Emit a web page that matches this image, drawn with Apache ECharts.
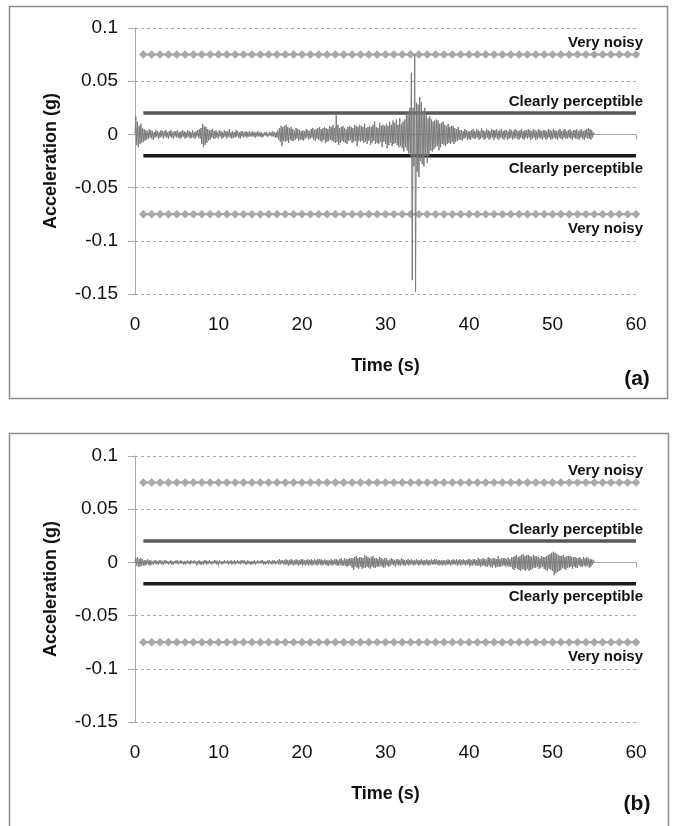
<!DOCTYPE html>
<html><head><meta charset="utf-8">
<script src="https://cdn.jsdelivr.net/npm/echarts@6/dist/echarts.min.js"></script>
<style>html,body{margin:0;padding:0;background:#fff}#c{width:673px;height:826px}</style>
</head><body><div id="c"></div>
<script>
// sampling step of the acceleration records (s)
const dt = 0.1;
// panel (a) acceleration, milli-g, one row per second (0 .. 55 s)
const signalA = [
 0, 17, -10, 12, -12, 8, -9, 10, -8, 6,
 -7, 5, -6, 4, -5, 3, -4, 5, -3, 4,
 -4, 3, -5, 2, -3, 4, -2, 3, -4, 2,
 -3, 4, -2, 3, -4, 3, -2, 4, -3, 2,
 -4, 3, -2, 4, -3, 2, -4, 3, -2, 3,
 -3, 4, -3, 2, -4, 3, -3, 4, -2, 3,
 -4, 2, -3, 4, -2, 3, -4, 2, -3, 4,
 -3, 2, -4, 3, -2, 4, -3, 5, -4, 6,
 -9, 10, -12, 8, -10, 7, -8, 5, -6, 4,
 -5, 4, -3, 5, -4, 3, -4, 4, -3, 2,
 -3, 4, -2, 3, -4, 2, -3, 4, -2, 3,
 -4, 3, -2, 5, -3, 2, -4, 3, -3, 2,
 -3, 4, -2, 3, -3, 2, -4, 3, -2, 3,
 -3, 2, -2, 3, -3, 2, -2, 3, -2, 2,
 -2, 3, -2, 2, -3, 2, -2, 3, -2, 2,
 -2, 2, -3, 1, -2, 2, -1, 2, -2, 1,
 -2, 2, -1, 2, -2, 3, -2, 2, -3, 2,
 -3, 4, -5, 6, -7, 8, -11, 7, -6, 8,
 -7, 9, -6, 7, -8, 6, -5, 7, -6, 5,
 -6, 4, -5, 6, -4, 5, -6, 4, -5, 3,
 -5, 4, -6, 3, -4, 5, -3, 4, -5, 3,
 -4, 5, -3, 6, -5, 4, -6, 5, -4, 6,
 -5, 7, -6, 5, -7, 6, -5, 7, -8, 6,
 -7, 5, -6, 8, -5, 7, -6, 9, -7, 6,
 -8, 18, -7, 9, -10, 6, -8, 7, -6, 8,
 -7, 6, -8, 5, -9, 7, -6, 8, -5, 7,
 -8, 6, -7, 9, -6, 8, -11, 7, -6, 9,
 -7, 8, -6, 7, -8, 10, -7, 6, -9, 7,
 -6, 8, -10, 7, -8, 9, -6, 12, -9, 7,
 -8, 6, -9, 11, -7, 8, -12, 9, -7, 8,
 -9, 10, -13, 8, -10, 12, -8, 9, -11, 13,
 -9, 11, -8, 14, -10, 9, -12, 15, -11, 10,
 -13, 12, -16, 14, -12, 18, -15, 20, -18, 25,
 -20, 58, -137, 25, -30, 75, -148, 30, -35, 28,
 -40, 35, -25, 30, -28, 22, -30, 25, -20, 18,
 -27, 15, -20, 17, -15, 14, -16, 12, -14, 13,
 -12, 14, -11, 13, -15, 10, -12, 11, -9, 12,
 -10, 9, -11, 8, -9, 10, -8, 7, -9, 8,
 -7, 8, -9, 6, -7, 5, -6, 7, -5, 4,
 -5, 4, -6, 3, -4, 5, -3, 4, -5, 3,
 -4, 3, -5, 4, -3, 5, -4, 3, -4, 5,
 -3, 4, -5, 3, -4, 6, -3, 4, -5, 3,
 -4, 5, -3, 4, -5, 3, -4, 5, -3, 4,
 -5, 4, -3, 5, -4, 3, -5, 4, -3, 5,
 -4, 3, -5, 4, -3, 4, -5, 3, -4, 5,
 -3, 4, -5, 3, -4, 5, -3, 4, -4, 3,
 -5, 4, -3, 5, -4, 3, -5, 4, -3, 4,
 -4, 5, -3, 4, -5, 3, -4, 5, -3, 4,
 -5, 3, -4, 5, -3, 4, -4, 3, -5, 4,
 -3, 4, -5, 3, -4, 5, -3, 4, -5, 3,
 -4, 5, -3, 4, -4, 3, -5, 4, -3, 5,
 -4, 3, -5, 4, -3, 5, -4, 3, -4, 4,
 -3, 5, -4, 3, -5, 4, -3, 4, -4, 5,
 -4, 3, -5, 4, -3, 5, -4, 3, -5, 4,
 -3, 5, -4, 6, -4, 5, -5, 4, -3, 2,
 0
];
// panel (b) acceleration, milli-g, one row per second (0 .. 55 s)
const signalB = [
 0, 4, -3, 5, -4, 3, -4, 4, -3, 3,
 -3, 2, -3, 2, -2, 3, -2, 2, -3, 2,
 -2, 1, -2, 2, -1, 2, -2, 1, -2, 2,
 -1, 2, -2, 1, -2, 2, -1, 2, -1, 1,
 -2, 1, -1, 2, -2, 1, -2, 1, -1, 2,
 -1, 2, -2, 1, -1, 2, -1, 1, -2, 1,
 -2, 1, -1, 2, -1, 1, -2, 2, -1, 1,
 -1, 2, -1, 1, -3, 1, -1, 2, -2, 1,
 -2, 1, -2, 2, -1, 2, -2, 1, -1, 2,
 -1, 1, -2, 1, -1, 2, -1, 2, -2, 1,
 -2, 2, -1, 1, -2, 1, -1, 2, -1, 1,
 -1, 2, -2, 1, -1, 2, -2, 1, -1, 2,
 -2, 1, -1, 2, -1, 1, -2, 2, -1, 2,
 -1, 2, -2, 1, -2, 2, -1, 1, -2, 1,
 -2, 1, -1, 2, -2, 1, -1, 2, -1, 1,
 -1, 2, -1, 2, -2, 1, -2, 1, -1, 2,
 -2, 2, -1, 1, -2, 2, -1, 2, -2, 1,
 -1, 2, -2, 3, -2, 2, -1, 2, -2, 2,
 -2, 3, -2, 2, -3, 2, -2, 3, -2, 2,
 -3, 2, -2, 3, -2, 2, -3, 2, -2, 3,
 -2, 3, -2, 2, -3, 2, -2, 3, -3, 2,
 -2, 3, -3, 2, -2, 3, -2, 2, -3, 3,
 -2, 3, -2, 3, -3, 2, -2, 3, -2, 2,
 -3, 2, -3, 2, -2, 3, -3, 2, -2, 3,
 -2, 3, -3, 2, -3, 3, -2, 4, -3, 2,
 -3, 4, -3, 3, -4, 3, -3, 4, -3, 4,
 -5, 4, -7, 5, -4, 6, -5, 4, -6, 5,
 -4, 5, -6, 4, -5, 7, -5, 6, -4, 5,
 -5, 4, -6, 5, -4, 6, -5, 4, -5, 4,
 -4, 3, -4, 5, -3, 4, -4, 3, -5, 4,
 -3, 4, -3, 2, -4, 3, -3, 4, -2, 3,
 -3, 2, -4, 3, -2, 3, -3, 2, -3, 4,
 -2, 3, -3, 2, -3, 2, -2, 3, -3, 2,
 -2, 3, -2, 2, -3, 2, -2, 3, -2, 2,
 -3, 2, -2, 3, -2, 2, -3, 2, -2, 3,
 -2, 2, -3, 2, -2, 3, -2, 2, -2, 3,
 -2, 3, -2, 2, -3, 2, -2, 2, -3, 2,
 -2, 2, -3, 2, -2, 3, -2, 2, -3, 2,
 -2, 3, -2, 2, -2, 3, -3, 2, -2, 3,
 -3, 2, -2, 3, -2, 2, -3, 2, -2, 3,
 -2, 3, -3, 2, -3, 3, -2, 3, -3, 2,
 -3, 4, -3, 3, -4, 3, -3, 4, -3, 3,
 -4, 3, -4, 5, -3, 4, -4, 3, -5, 4,
 -3, 4, -5, 3, -4, 6, -4, 3, -4, 4,
 -3, 4, -3, 4, -4, 3, -3, 5, -4, 3,
 -4, 5, -6, 5, -7, 6, -5, 7, -6, 5,
 -7, 6, -8, 7, -6, 8, -7, 6, -8, 7,
 -6, 7, -8, 6, -7, 5, -6, 7, -5, 6,
 -5, 6, -4, 5, -6, 4, -5, 6, -4, 5,
 -6, 5, -7, 6, -8, 7, -6, 8, -7, 9,
 -8, 10, -12, 9, -10, 8, -9, 7, -8, 6,
 -7, 6, -5, 7, -6, 5, -7, 6, -5, 6,
 -5, 6, -4, 5, -6, 5, -4, 5, -5, 4,
 -5, 4, -3, 5, -4, 3, -4, 5, -3, 4,
 -4, 5, -3, 4, -5, 3, -4, 3, -2, 2,
 0
];
// comfort thresholds (g) and the times where the "very noisy" markers sit
const veryNoisy = 0.075;
const clearlyPerceptible = 0.02;
const thresholdSpan = [1, 60];
const markerTimes = [1,2,3,4,5,6,7,8,9,10,11,12,13,14,15,16,17,18,19,20,
 21,22,23,24,25,26,27,28,29,30,31,32,33,34,35,36,37,38,39,40,
 41,42,43,44,45,46,47,48,49,50,51,52,53,54,55,56,57,58,59,60];
const xRange = [0, 60], xStep = 10;
const yRange = [-0.15, 0.1], yStep = 0.05;
const panelTags = ['(a)', '(b)'];
const labelVeryNoisy = 'Very noisy';
const labelClearly = 'Clearly perceptible';

const FONT = "'Liberation Sans', Arial, sans-serif";
const AX = '#a6a6a6';
const panels = [signalA, signalB];
const gridTops = [28, 456];

const grids = [], xAxes = [], yAxes = [], series = [];
panels.forEach((sig, i) => {
  grids.push({left: 135, width: 501, top: gridTops[i], height: 266});
  xAxes.push({gridIndex: i, type: 'value', min: xRange[0], max: xRange[1], interval: xStep,
    axisLine: {show: true, onZero: true, lineStyle: {color: AX, width: 1}},
    axisTick: {show: true, length: 5, lineStyle: {color: AX}},
    axisLabel: {show: false}, splitLine: {show: false}});
  xAxes.push({gridIndex: i, type: 'value', min: xRange[0], max: xRange[1], interval: xStep, position: 'bottom',
    axisLine: {show: false, onZero: false}, axisTick: {show: false}, splitLine: {show: false},
    axisLabel: {margin: 21, fontSize: 19, color: '#111', fontFamily: FONT},
    name: 'Time (s)', nameLocation: 'middle', nameGap: 63,
    nameTextStyle: {fontSize: 18, fontWeight: 'bold', color: '#111', fontFamily: FONT}});
  yAxes.push({gridIndex: i, type: 'value', min: yRange[0], max: yRange[1], interval: yStep,
    axisLine: {show: true, onZero: false, lineStyle: {color: AX, width: 1}},
    axisTick: {show: true, length: 7, lineStyle: {color: AX}},
    axisLabel: {margin: 17, fontSize: 19, color: '#111', fontFamily: FONT,
      formatter: v => String(Number(v.toFixed(2)))},
    splitLine: {show: true, lineStyle: {color: AX, type: [3, 3], width: 1}},
    name: 'Acceleration (g)', nameLocation: 'middle', nameGap: 75,
    nameTextStyle: {fontSize: 18, fontWeight: 'bold', color: '#111', fontFamily: FONT}});
  const xi = i * 2, yi = i;
  const lbl = (text, y, dy) => ({coord: [thresholdSpan[1], y], symbol: 'circle', symbolSize: 1,
    itemStyle: {color: 'rgba(0,0,0,0)'},
    label: {show: true, position: 'inside', formatter: text, align: 'right', verticalAlign: 'middle',
      offset: [7, dy], fontSize: 15, fontWeight: 'bold', color: '#111', fontFamily: FONT}});
  [veryNoisy, -veryNoisy].forEach((v, k) => {
    series.push({type: 'line', xAxisIndex: xi, yAxisIndex: yi, silent: true, animation: false,
      data: markerTimes.map(t => [t, v]), symbol: 'diamond', symbolSize: 8, showSymbol: true,
      lineStyle: {color: AX, width: 2}, itemStyle: {color: '#a9a9a9', borderColor: '#999', borderWidth: 0.5},
      z: 2,
      markPoint: {silent: true, animation: false, data: [lbl(labelVeryNoisy, v, k === 0 ? -12 : 15)]}});
  });
  [clearlyPerceptible, -clearlyPerceptible].forEach((v, k) => {
    series.push({type: 'line', xAxisIndex: xi, yAxisIndex: yi, silent: true, animation: false,
      data: thresholdSpan.map(t => [t, v]), symbol: 'none',
      lineStyle: {color: k === 0 ? '#595959' : '#1c1c1c', width: 3.5}, z: 2,
      markPoint: {silent: true, animation: false, data: [lbl(labelClearly, v, k === 0 ? -11 : 13)]}});
  });
  series.push({type: 'line', xAxisIndex: xi, yAxisIndex: yi, silent: true, animation: false,
    data: sig.map((mg, k) => [k * dt, mg / 1000]), symbol: 'none', sampling: null,
    lineStyle: {color: '#7a7a7a', width: 1}, z: 3});
});

const chart = echarts.init(document.getElementById('c'), null, {renderer: 'canvas'});
chart.setOption({
  backgroundColor: '#fff', animation: false,
  grid: grids, xAxis: xAxes, yAxis: yAxes, series: series,
  graphic: [
    {type: 'rect', shape: {x: 9.5, y: 6.5, width: 658, height: 392}, style: {fill: 'none', stroke: '#8c8c8c', lineWidth: 1.5}, silent: true},
    {type: 'rect', shape: {x: 9.5, y: 433.5, width: 659, height: 400}, style: {fill: 'none', stroke: '#8c8c8c', lineWidth: 1.5}, silent: true},
    {type: 'text', x: 637, y: 379, style: {text: panelTags[0], font: 'bold 21px ' + FONT, fill: '#111', textAlign: 'center', textVerticalAlign: 'middle'}},
    {type: 'text', x: 637, y: 804, style: {text: panelTags[1], font: 'bold 21px ' + FONT, fill: '#111', textAlign: 'center', textVerticalAlign: 'middle'}}
  ]
});
</script></body></html>
